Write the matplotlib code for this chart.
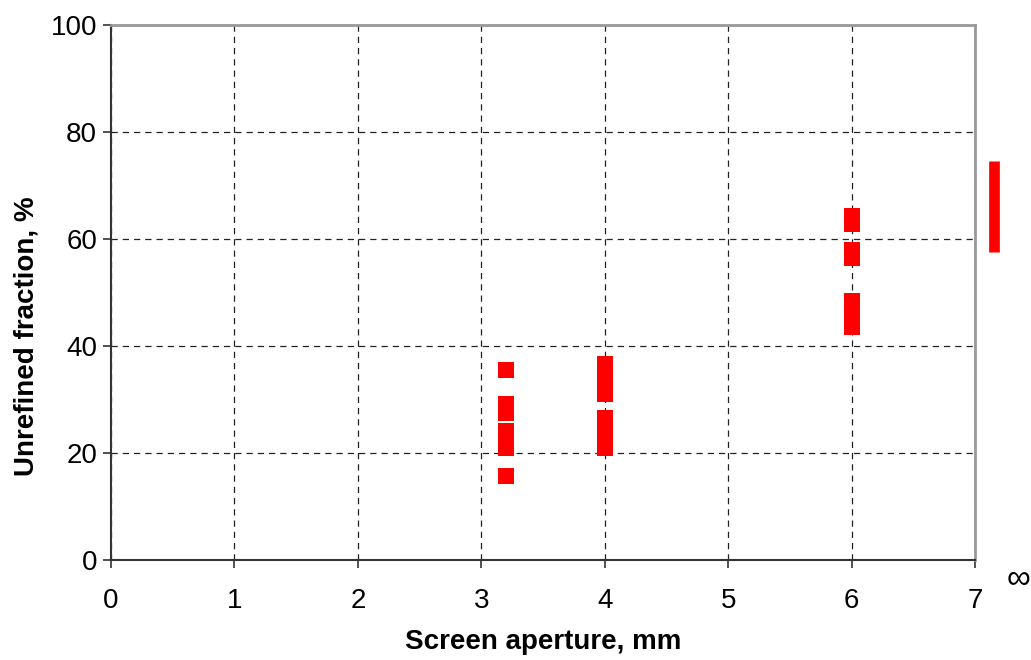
import matplotlib
matplotlib.use("Agg")
import matplotlib.pyplot as plt

plt.rcParams['font.family'] = ['Liberation Sans', 'DejaVu Sans']

# Data: screen aperture (mm) and unrefined fraction (%)
aperture = [3.2, 3.2, 3.2, 3.2, 3.2, 3.2, 3.2,
            4.0, 4.0, 4.0, 4.0, 4.0, 4.0, 4.0, 4.0,
            6.0, 6.0, 6.0, 6.0, 6.0, 6.0, 6.0, 6.0]
unrefined = [35.5, 29.1, 27.4, 24.1, 22.6, 21.0, 15.7,
             36.6, 34.8, 32.9, 31.0, 26.6, 25.1, 22.3, 21.0,
             64.3, 62.8, 57.9, 56.4, 48.4, 46.9, 45.2, 43.5]
# Unscreened (infinite aperture) range
inf_x = [7.15, 7.15]
inf_range = [57.5, 74.6]

x_ticks = [0, 1, 2, 3, 4, 5, 6, 7]
y_ticks = [0, 20, 40, 60, 80, 100]

fig = plt.figure(figsize=(10.31, 6.6), dpi=100)
ax = fig.add_axes([0.1077, 0.1515, 0.8380, 0.8105])

ax.set_xlim(0, 7)
ax.set_ylim(0, 100)
ax.set_xticks(x_ticks)
ax.set_yticks(y_ticks)
ax.tick_params(axis='both', labelsize=20, direction='out', length=6, width=1.2, color='#333333')
ax.tick_params(axis='x', pad=14)
ax.tick_params(axis='y', pad=4)

ax.grid(True, color='#222222', linestyle=(0, (5, 4)), linewidth=0.9)
ax.set_axisbelow(True)

for s in ['left', 'bottom']:
    ax.spines[s].set_color('#333333')
    ax.spines[s].set_linewidth(1.5)
for s in ['top', 'right']:
    ax.spines[s].set_color('#999999')
    ax.spines[s].set_linewidth(2)

ax.plot(aperture, unrefined, linestyle='none', marker='s', markersize=11.2,
        color='#ff0000', markeredgewidth=0, zorder=3)
ax.plot(inf_x, inf_range, color='#ff0000', linewidth=7.7, solid_capstyle='butt',
        clip_on=False, zorder=3)

ax.text(1.050, -0.036, '\u221e', transform=ax.transAxes, fontsize=24,
        ha='center', va='center')

ax.set_xlabel('Screen aperture, mm', fontsize=20, fontweight='bold', labelpad=11)
ax.set_ylabel('Unrefined fraction, %', fontsize=20, fontweight='bold')
ax.yaxis.set_label_coords(-0.083, 0.419)

fig.savefig('out.png', dpi=100)
